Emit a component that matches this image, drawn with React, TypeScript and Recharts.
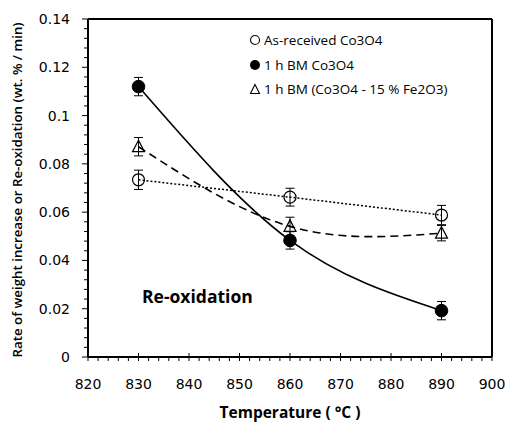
import { LineChart, Line, XAxis, YAxis, ErrorBar, ReferenceLine } from 'recharts';

// temperatures (°C) and measured rates (wt.% / min)
const temps = [830, 860, 890];
const asReceived = [0.0734, 0.0662, 0.0588];
const asReceivedErr = [0.004, 0.0037, 0.004];
const bmCo3O4 = [0.112, 0.0483, 0.0192];
const bmCo3O4Err = [0.0038, 0.0036, 0.0038];
const bmFe = [0.0871, 0.0541, 0.0513];
const bmFeErr = [0.0038, 0.0038, 0.0032];

const xMajorTicks = [820, 830, 840, 850, 860, 870, 880, 890, 900];
const yMajorTicks = [0, 0.02, 0.04, 0.06, 0.08, 0.1, 0.12, 0.14];

// 4 minor ticks between each pair of majors
const subdivide = (major: number[], digits: number) => {
  const out: number[] = [];
  for (let i = 0; i < major.length - 1; i++) {
    const step = (major[i + 1] - major[i]) / 5;
    for (let k = 0; k < 5; k++) out.push(Number((major[i] + k * step).toFixed(digits)));
  }
  out.push(major[major.length - 1]);
  return out;
};
const xTicks = subdivide(xMajorTicks, 0);
const yTicks = subdivide(yMajorTicks, 3);

const data = temps.map((t, i) => ({
  temp: t,
  asReceived: asReceived[i],
  asReceivedErr: asReceivedErr[i],
  bmCo3O4: bmCo3O4[i],
  bmCo3O4Err: bmCo3O4Err[i],
  bmFe: bmFe[i],
  bmFeErr: bmFeErr[i],
}));

const FONT = '"Open Sans", sans-serif';
const TICK_FONT = '"DejaVu Sans", sans-serif';

const XTick = (props: any) => {
  const { x, y, payload } = props;
  const major = xMajorTicks.includes(payload.value);
  return (
    <g>
      <line x1={x} x2={x} y1={major ? y - 4 : y} y2={y + 4} stroke="#000" strokeWidth={1} />
      {major && (
        <text x={x} y={y + 32} textAnchor="middle" fontSize={14} fontFamily={TICK_FONT} fill="#000">
          {payload.value}
        </text>
      )}
    </g>
  );
};

const YTick = (props: any) => {
  const { x, y, payload } = props;
  const major = yMajorTicks.some(v => Math.abs(v - payload.value) < 1e-6);
  return (
    <g>
      <line x1={major ? x - 6 : x - 4} x2={x} y1={y} y2={y} stroke="#000" strokeWidth={1} />
      {major && (
        <text x={x - 18} y={y + 5} textAnchor="end" fontSize={14} fontFamily={TICK_FONT} fill="#000">
          {String(Number(payload.value.toFixed(2)))}
        </text>
      )}
    </g>
  );
};

const OpenCircle = (props: any) => {
  const { cx, cy } = props;
  return <circle cx={cx} cy={cy} r={6} fill="none" stroke="#000" strokeWidth={1.2} />;
};

const FilledCircle = (props: any) => {
  const { cx, cy } = props;
  return <circle cx={cx} cy={cy} r={6.3} fill="#000" stroke="#000" />;
};

const Triangle = (props: any) => {
  const { cx, cy } = props;
  return (
    <polygon
      points={`${cx},${cy - 6.5} ${cx - 6},${cy + 5} ${cx + 6},${cy + 5}`}
      fill="none"
      stroke="#000"
      strokeWidth={1.2}
    />
  );
};

const YLabel = () => (
  <text
    x={17}
    y={190}
    transform="rotate(-90 17 190)"
    textAnchor="middle"
    dominantBaseline="central"
    fontSize={13.3}
    fontWeight={600}
    fontFamily={FONT}
    fill="#000"
  >
    Rate of weight increase or Re-oxidation (wt. % / min)
  </text>
);

const legendItems = [
  { label: 'As-received Co3O4', sym: 'circle' },
  { label: '1 h BM Co3O4', sym: 'filled' },
  { label: '1 h BM (Co3O4 - 15 % Fe2O3)', sym: 'triangle' },
];

export default function App() {
  return (
    <div style={{ position: 'absolute', left: 0, top: 0, width: 505, height: 422, background: '#fff' }}>
      <LineChart width={505} height={422} data={data} margin={{ top: 19, right: 13, bottom: 10, left: 28 }}>
        <XAxis
          dataKey="temp"
          type="number"
          domain={[820, 900]}
          ticks={xTicks}
          interval={0}
          tick={<XTick />}
          tickLine={false}
          tickSize={0}
          tickMargin={0}
          height={55}
          axisLine={{ stroke: '#000', strokeWidth: 2 }}
          label={{
            value: 'Temperature ( °C )',
            position: 'insideBottom',
            offset: -6,
            fontSize: 15.5,
            fontWeight: 700,
            fontFamily: FONT,
            fill: '#000',
          }}
        />
        <YAxis
          type="number"
          domain={[0, 0.14]}
          ticks={yTicks}
          interval={0}
          tick={<YTick />}
          tickLine={false}
          tickSize={0}
          tickMargin={0}
          width={60}
          axisLine={{ stroke: '#000', strokeWidth: 2 }}
          label={{ content: () => <YLabel /> }}
        />
        <ReferenceLine x={900} stroke="#000" strokeWidth={2} />
        <ReferenceLine y={0.14} stroke="#000" strokeWidth={2} />
        <Line
          type="linear"
          dataKey="asReceived"
          stroke="#000"
          strokeWidth={1.5}
          strokeDasharray="2 2"
          dot={<OpenCircle />}
          isAnimationActive={false}
        >
          <ErrorBar dataKey="asReceivedErr" width={4.5} stroke="#000" strokeWidth={1} direction="y" />
        </Line>
        <Line
          type="natural"
          dataKey="bmCo3O4"
          stroke="#000"
          strokeWidth={1.6}
          dot={<FilledCircle />}
          isAnimationActive={false}
        >
          <ErrorBar dataKey="bmCo3O4Err" width={4.5} stroke="#000" strokeWidth={1} direction="y" />
        </Line>
        <Line
          type="natural"
          dataKey="bmFe"
          stroke="#000"
          strokeWidth={1.6}
          strokeDasharray="8 5"
          dot={<Triangle />}
          isAnimationActive={false}
        >
          <ErrorBar dataKey="bmFeErr" width={4.5} stroke="#000" strokeWidth={1} direction="y" />
        </Line>
      </LineChart>

      <div style={{ position: 'absolute', left: 249, top: 28, fontFamily: FONT, fontSize: 13.5, color: '#000' }}>
        {legendItems.map(item => (
          <div key={item.label} style={{ display: 'flex', alignItems: 'center', height: 24.5 }}>
            <svg width={12} height={12} style={{ marginRight: 3 }}>
              {item.sym === 'circle' && <circle cx={6} cy={6} r={4.5} fill="none" stroke="#000" strokeWidth={1.1} />}
              {item.sym === 'filled' && <circle cx={6} cy={6} r={5} fill="#000" />}
              {item.sym === 'triangle' && (
                <polygon points="6,1.5 1.5,10.5 10.5,10.5" fill="none" stroke="#000" strokeWidth={1.1} />
              )}
            </svg>
            <span>{item.label}</span>
          </div>
        ))}
      </div>

      <div
        style={{
          position: 'absolute',
          left: 142,
          top: 284,
          fontFamily: FONT,
          fontSize: 17.5,
          fontWeight: 700,
          color: '#000',
        }}
      >
        Re-oxidation
      </div>
    </div>
  );
}
